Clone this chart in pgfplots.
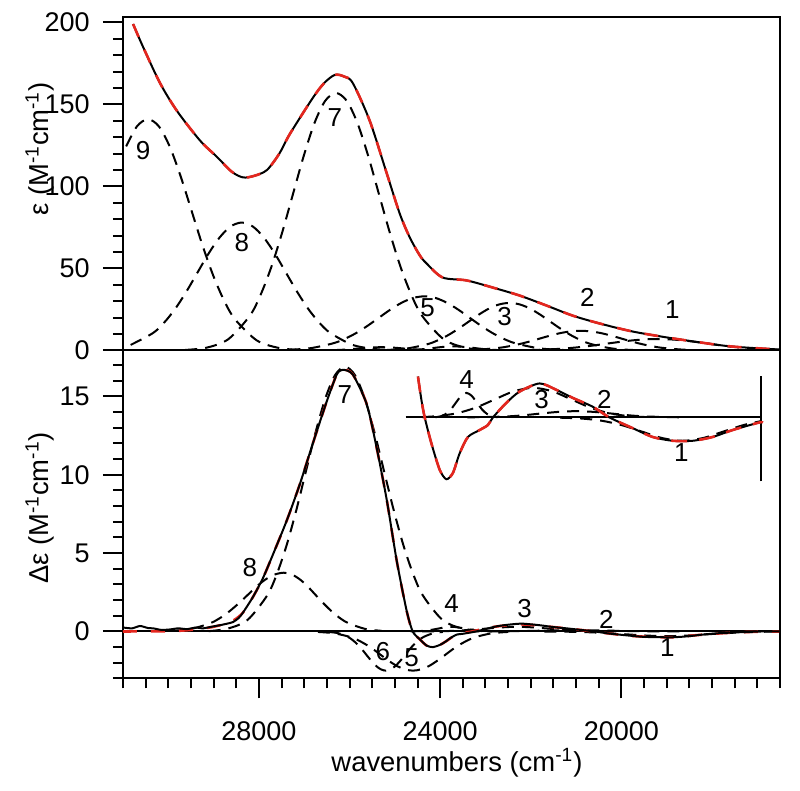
\documentclass[border=0pt]{standalone}
\usepackage{fontspec}
\setmainfont{Liberation Sans}
\usepackage{pgfplots}
\pgfplotsset{compat=1.18}
\definecolor{fitred}{RGB}{228,38,30}
\newcommand{\tickfont}{\fontsize{13.5}{15}\selectfont}
\newcommand{\labfont}{\fontsize{13}{15}\selectfont}
\newcommand{\titlefont}{\fontsize{13.7}{15}\selectfont}
\tikzset{lab/.style={inner sep=0pt}}
\begin{document}
\fontsize{13.5}{15}\selectfont
\begin{tikzpicture}
\pgfplotsset{
  base/.style={scale only axis, anchor=south west, width=328.5pt,
    xmin=16500, xmax=31000, x dir=reverse, scaled x ticks=false, scaled y ticks=false,
    axis line style={line width=1pt}, tick style={black, line width=1pt},
    major tick length=10pt, minor tick length=5pt, tick align=outside,
    /pgf/number format/assume math mode=true, /pgf/number format/1000 sep={},
    xticklabel={\tickfont\pgfmathprintnumber{\tick}},
    yticklabel={\tickfont\pgfmathprintnumber{\tick}},
    xticklabel style={yshift=-7pt},
    yticklabel style={xshift=-2pt}},
  comp/.style={black, line width=1pt, dash pattern=on 6pt off 4pt, smooth},
  tot/.style={black, line width=1pt, smooth},
  fit/.style={fitred, line width=1.3pt, dash pattern=on 7pt off 7pt, smooth},
}
% ---------------- top panel ----------------
\begin{axis}[base, at={(61.5pt,220.25pt)}, height=166.5pt, ymin=0, ymax=203,
  xtick=\empty, ytick={0,50,100,150,200}, minor ytick={10,20,...,190}, ytick pos=left]
% component 9
\addplot[comp] coordinates {(30930,124.4) (30690,136.7) (30450,141) (30210,136.7) (29970,124.4) (29730,106.4) (29490,85.5) (29250,64.5) (29010,45.8) (28770,30.5) (28530,19.1) (28050,6.2) (27570,1.6) (27090,0.3) (26610,0.04)};
% component 8
\addplot[comp] coordinates {(30830,3.4) (30340,10.6) (30095,16.9) (29850,25.3) (29605,35.7) (29360,47.3) (29115,58.9) (28870,68.8) (28625,75.6) (28380,78) (28135,75.6) (27890,68.8) (27645,58.9) (27400,47.3) (27155,35.7) (26910,25.3) (26665,16.9) (26420,10.6) (25930,3.4) (25440,0.87) (24950,0.17) (24460,0.02)};
% component 7
\addplot[comp] coordinates {(29625,0.35) (29150,1.74) (28675,6.9) (28200,21.2) (27962,34.0) (27725,51.0) (27487,71.9) (27250,95.2) (27012,118.5) (26775,138.6) (26537,152.2) (26300,157) (26062,152.2) (25825,138.6) (25587,118.5) (25350,95.2) (25112,71.9) (24875,51.0) (24637,34.0) (24400,21.2) (23925,6.9) (23450,1.74) (22975,0.35) (22500,0.05)};
% component 6
\addplot[comp] coordinates {(26800,0.02) (26300,0.27) (26050,0.65) (25800,1.2) (25550,1.77) (25300,2) (25050,1.77) (24800,1.2) (24550,0.65) (24300,0.27) (23800,0.02)};
% component 5
\addplot[comp] coordinates {(27350,0.37) (26850,1.45) (26350,4.47) (26100,7.14) (25850,10.7) (25600,15.1) (25350,20.0) (25100,24.9) (24850,29.1) (24600,32.0) (24350,33) (24100,32.0) (23850,29.1) (23600,24.9) (23350,20.0) (23100,15.1) (22850,10.7) (22600,7.14) (22350,4.47) (21850,1.45) (21350,0.37) (20850,0.07)};
% component 4
\addplot[comp] coordinates {(25050,0.03) (24600,0.34) (24375,0.81) (24150,1.52) (23925,2.21) (23700,2.5) (23475,2.21) (23250,1.52) (23025,0.81) (22800,0.34) (22350,0.03)};
% component 3
\addplot[comp] coordinates {(25170,0.32) (24720,1.27) (24270,3.92) (24045,6.27) (23820,9.42) (23595,13.3) (23370,17.6) (23145,21.9) (22920,25.6) (22695,28.1) (22470,29) (22245,28.1) (22020,25.6) (21795,21.9) (21570,17.6) (21345,13.3) (21120,9.42) (20895,6.27) (20670,3.92) (20220,1.27) (19770,0.32) (19320,0.06)};
% component 2
\addplot[comp] coordinates {(23600,0.13) (23150,0.53) (22700,1.62) (22475,2.60) (22250,3.90) (22025,5.49) (21800,7.28) (21575,9.06) (21350,10.59) (21125,11.63) (20900,12) (20675,11.63) (20450,10.59) (20225,9.06) (20000,7.28) (19775,5.49) (19550,3.90) (19325,2.60) (19100,1.62) (18650,0.53) (18200,0.13)};
% component 1
\addplot[comp] coordinates {(22500,0.08) (21950,0.31) (21400,0.95) (21125,1.51) (20850,2.27) (20575,3.20) (20300,4.25) (20025,5.28) (19750,6.18) (19475,6.78) (19200,7) (18925,6.78) (18650,6.18) (18375,5.28) (18100,4.25) (17825,3.20) (17550,2.27) (17275,1.51) (17000,0.95) (16450,0.31)};
% measured absorption
\addplot[tot] coordinates {(30777,199) (30556,185) (30182,163) (29807,146) (29300,128) (28925,118) (28600,109) (28350,105.5) (28100,106.5) (27824,110) (27550,120) (27317,132) (26810,154) (26560,163) (26325,168) (26120,167) (25928,163) (25554,140) (25179,108) (24893,83.5) (24672,69) (24450,58) (24298,53) (23945,44.5) (23416,42.7) (22843,38.4) (22248,33.5) (21653,27.4) (21080,21.3) (20485,16.5) (19758,11.6) (19008,8) (18281,5) (17554,2.4) (16518,0.6)};
% fit
\addplot[fit] coordinates {(30777,199) (30556,185) (30182,163) (29807,146) (29300,128) (28925,118) (28600,109) (28350,105.5) (28100,106.5) (27824,110) (27550,120) (27317,132) (26810,154) (26560,163) (26325,168) (26120,167) (25928,163) (25554,140) (25179,108) (24893,83.5) (24672,69) (24450,58) (24298,53) (23945,44.5) (23416,42.7) (22843,38.4) (22248,33.5) (21653,27.4) (21080,21.3) (20485,16.5) (19758,11.6) (19008,8) (18281,5) (17554,2.4) (16518,0.6)};
\node[lab] at (axis cs:30556,122) {\labfont 9};
\node[lab] at (axis cs:28375,66) {\labfont 8};
\node[lab] at (axis cs:26325,142) {\labfont 7};
\node[lab] at (axis cs:24275,26) {\labfont 5};
\node[lab] at (axis cs:22579,20.4) {\labfont 3};
\node[lab] at (axis cs:20749,32.6) {\labfont 2};
\node[lab] at (axis cs:18876,24.7) {\labfont 1};
\end{axis}
% ---------------- bottom panel ----------------
\begin{axis}[base, at={(61.5pt,56.25pt)}, height=164pt, ymin=-3, ymax=17.93,
  xtick={20000,24000,28000}, minor xtick={16500,17000,...,31000},
  ytick={0,5,10,15}, minor ytick={-3,-2,...,17}, xtick pos=bottom, ytick pos=left]
\addplot[black, line width=1pt] coordinates {(31000,0) (16500,0)};
% component 8
\addplot[comp] coordinates {(29910,0.04) (29500,0.16) (29090,0.51) (28885,0.81) (28680,1.22) (28475,1.72) (28270,2.27) (28065,2.83) (27860,3.31) (27655,3.63) (27450,3.75) (27270,3.63) (27090,3.31) (26910,2.83) (26730,2.27) (26550,1.72) (26370,1.22) (26190,0.81) (26010,0.51) (25650,0.16) (25290,0.04)};
% component 7
\addplot[comp] coordinates {(29110,0.02) (28680,0.19) (28250,0.74) (27820,2.29) (27605,3.66) (27390,5.49) (27175,7.74) (26960,10.25) (26745,12.76) (26530,14.91) (26315,16.38) (26100,16.9) (25885,16.38) (25670,14.91) (25455,12.76) (25240,10.25) (25025,7.74) (24810,5.49) (24595,3.66) (24380,2.29) (23950,0.74) (23520,0.19) (23090,0.04)};
% component 6
\addplot[comp] coordinates {(26460,-0.03) (26250,-0.11) (26040,-0.34) (25935,-0.54) (25830,-0.81) (25725,-1.14) (25620,-1.52) (25515,-1.89) (25410,-2.21) (25305,-2.42) (25200,-2.5) (25095,-2.42) (24990,-2.21) (24885,-1.89) (24780,-1.52) (24675,-1.14) (24570,-0.81) (24465,-0.54) (24360,-0.34) (24150,-0.11) (23940,-0.03)};
% component 5
\addplot[comp] coordinates {(26700,-0.03) (26350,-0.11) (26000,-0.34) (25825,-0.54) (25650,-0.81) (25475,-1.14) (25300,-1.52) (25125,-1.89) (24950,-2.21) (24775,-2.42) (24600,-2.5) (24425,-2.42) (24250,-2.21) (24075,-1.89) (23900,-1.52) (23725,-1.14) (23550,-0.81) (23375,-0.54) (23200,-0.34) (22850,-0.11) (22500,-0.03)};
% component 4
\addplot[comp] coordinates {(24650,0.003) (24350,0.04) (24200,0.10) (24050,0.18) (23900,0.26) (23750,0.3) (23600,0.26) (23450,0.18) (23300,0.10) (23150,0.04) (22850,0.003)};
% component 3
\addplot[comp] coordinates {(24400,0.003) (24050,0.013) (23700,0.04) (23350,0.1) (23000,0.18) (22650,0.26) (22300,0.3) (21950,0.26) (21600,0.18) (21250,0.1) (20900,0.04) (20550,0.013) (20200,0.003)};
% component 2
\addplot[comp] coordinates {(23400,0.001) (22600,0.011) (22200,0.026) (21800,0.049) (21400,0.071) (21000,0.08) (20600,0.071) (20200,0.049) (19800,0.026) (19400,0.011) (18600,0.001)};
% component 1
\addplot[comp] coordinates {(21700,-0.003) (21250,-0.013) (20800,-0.041) (20350,-0.097) (19900,-0.18) (19450,-0.26) (19000,-0.3) (18550,-0.26) (18100,-0.18) (17650,-0.097) (17200,-0.041) (16750,-0.013) (16300,-0.003)};
% fit (under the data)
\addplot[fit] coordinates {(31000,0) (30000,0.02) (29500,0.1) (29000,0.3) (28600,0.65) (28353,1.2) (28132,2.2) (27912,3.4) (27692,4.9) (27383,7.1) (27097,9.4) (26810,12) (26501,14.7) (26281,16.4) (26149,16.7) (25928,16.4) (25620,14.5) (25400,11.7) (25179,8.4) (24958,4.5) (24738,1.3) (24606,0.0) (24450,-0.5) (24298,-0.9) (24165,-1.0) (24000,-0.85) (23857,-0.6) (23637,-0.2) (23300,0) (22800,0.3) (22200,0.45) (21500,0.28) (20900,0.1) (20300,-0.12) (19700,-0.3) (18876,-0.37) (18281,-0.22) (17400,-0.05) (16518,0)};
% measured CD
\addplot[tot, tension=0.4] coordinates {(30990,0.25) (30800,0.2) (30623,0.35) (30450,0.22) (30336,0.2) (30150,0.1) (29961,0.13) (29780,0.2) (29587,0.15) (29400,0.25) (29234,0.2) (29050,0.3) (28860,0.4) (28700,0.5) (28573,0.6) (28450,0.85) (28353,1.2) (28132,2.2) (27912,3.4) (27692,4.9) (27383,7.1) (27097,9.4) (26810,12) (26501,14.7) (26281,16.4) (26149,16.7) (25928,16.4) (25620,14.5) (25400,11.7) (25179,8.4) (24958,4.5) (24738,1.3) (24606,0.0) (24450,-0.5) (24298,-0.9) (24165,-1.0) (24000,-0.85) (23857,-0.6) (23791,-0.45) (23637,-0.2) (23504,-0.15) (23300,-0.05) (23130,0.05) (22800,0.3) (22534,0.42) (22200,0.5) (21807,0.4) (21500,0.28) (21212,0.2) (20900,0.1) (20639,0.02) (20300,-0.12) (20044,-0.2) (19700,-0.3) (19449,-0.35) (18876,-0.37) (18500,-0.3) (18281,-0.22) (17900,-0.12) (17400,-0.05) (16900,0) (16518,0)};
\node[lab] at (axis cs:26105,15.1) {\labfont 7};
\node[lab] at (axis cs:28198,4.1) {\labfont 8};
\node[lab] at (axis cs:25267,-1.3) {\labfont 6};
\node[lab] at (axis cs:24628,-1.7) {\labfont 5};
\node[lab] at (axis cs:23747,1.8) {\labfont 4};
\node[lab] at (axis cs:22138,1.44) {\labfont 3};
\node[lab] at (axis cs:20330,0.8) {\labfont 2};
\node[lab] at (axis cs:18986,-1.05) {\labfont 1};
\end{axis}
% ---------------- inset (magnified CD) ----------------
\begin{axis}[scale only axis, anchor=south west, at={(61.5pt,56.25pt)}, width=328.5pt, height=164pt,
  xmin=16500, xmax=31000, x dir=reverse, ymin=-4.143, ymax=1.063, axis lines=none, clip=false]
\addplot[black, line width=1pt] coordinates {(24760,0) (16915,0)};
\addplot[black, line width=1pt] coordinates {(16915,-1.016) (16915,0.651)};
% component 4
\addplot[comp] coordinates {(24110,0.004) (23995,0.017) (23880,0.053) (23765,0.127) (23650,0.237) (23535,0.344) (23420,0.39) (23305,0.344) (23190,0.237) (23075,0.127) (22960,0.053) (22845,0.017) (22730,0.004)};
% component 3
\addplot[comp] coordinates {(24400,0.006) (24075,0.021) (23650,0.064) (23225,0.153) (22800,0.285) (22375,0.415) (21950,0.47) (21525,0.415) (21100,0.285) (20675,0.153) (20250,0.064) (19825,0.021) (19400,0.005)};
% component 2
\addplot[comp] coordinates {(23400,0.001) (22600,0.014) (22200,0.032) (21800,0.061) (21400,0.088) (21000,0.1) (20600,0.088) (20200,0.061) (19800,0.032) (19400,0.014) (18600,0.001)};
% component 1
\addplot[comp] coordinates {(21350,-0.004) (20900,-0.016) (20450,-0.05) (20000,-0.12) (19550,-0.224) (19100,-0.327) (18650,-0.37) (18200,-0.327) (17750,-0.224) (17300,-0.12) (16915,-0.058)};
% magnified measured CD
\addplot[tot, tension=0.45] coordinates {(24490,0.65) (24414,0.28) (24341,0) (24194,-0.41) (24011,-0.83) (23864,-0.98) (23718,-0.88) (23570,-0.57) (23387,-0.31) (23130,-0.2) (22946,-0.12) (22836,0) (22542,0.23) (22248,0.41) (21807,0.54) (21440,0.44) (21072,0.31) (20632,0.17) (20264,0) (19750,-0.17) (19309,-0.31) (18868,-0.37) (18427,-0.37) (17987,-0.31) (17547,-0.2) (16959,-0.08) (16915,-0.085)};
\addplot[fit, tension=0.45, dash pattern=on 8pt off 6pt] coordinates {(24490,0.65) (24414,0.28) (24341,0) (24194,-0.41) (24011,-0.83) (23864,-0.98) (23718,-0.88) (23570,-0.57) (23387,-0.31) (23130,-0.2) (22946,-0.12) (22836,0) (22542,0.23) (22248,0.41) (21807,0.54) (21440,0.44) (21072,0.31) (20632,0.17) (20264,0) (19750,-0.17) (19309,-0.31) (18868,-0.37) (18427,-0.37) (17987,-0.31) (17547,-0.2) (16959,-0.08) (16915,-0.085)};
\node[lab] at (axis cs:23416,0.6) {\labfont 4};
\node[lab] at (axis cs:21763,0.28) {\labfont 3};
\node[lab] at (axis cs:20375,0.29) {\labfont 2};
\node[lab] at (axis cs:18678,-0.56) {\labfont 1};
\end{axis}
% ---------------- axis titles ----------------
\node[rotate=90] at (20pt,321pt) {\titlefont ε (M\textsuperscript{-1}cm\textsuperscript{-1})};
\node[rotate=90] at (20pt,141.5pt) {\titlefont Δε (M\textsuperscript{-1}cm\textsuperscript{-1})};
\node at (228.5pt,14pt) {\titlefont wavenumbers (cm\textsuperscript{-1})};
\pgfresetboundingbox
\useasboundingbox (0,0) rectangle (400pt,395.5pt);
\end{tikzpicture}
\end{document}
